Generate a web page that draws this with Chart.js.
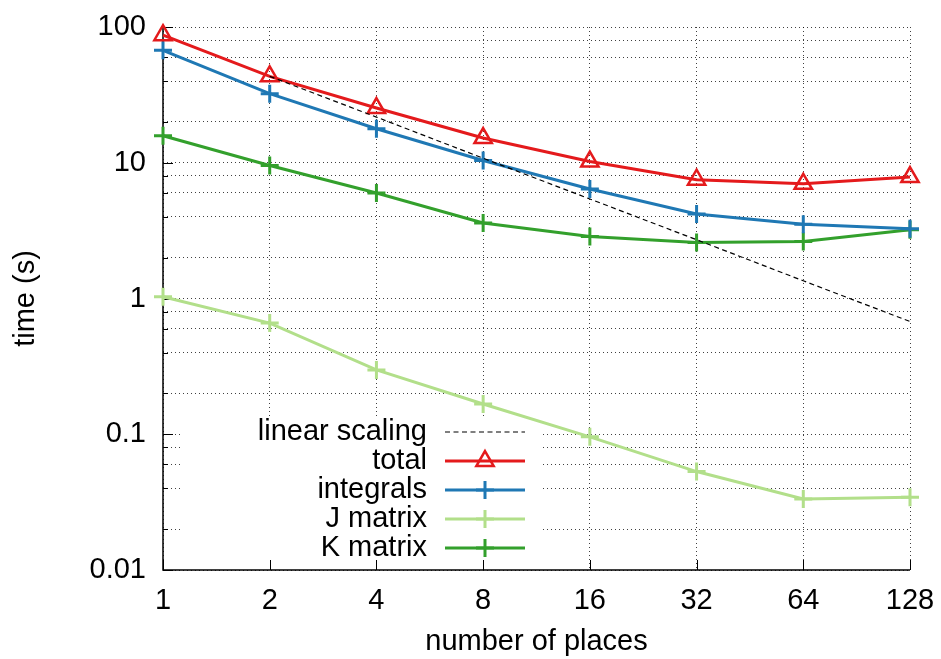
<!DOCTYPE html>
<html>
<head>
<meta charset="utf-8">
<script src="https://cdn.jsdelivr.net/npm/chart.js@4.4.0/dist/chart.umd.min.js"></script>
<style>
  html, body { margin: 0; padding: 0; background: #fff; }
</style>
</head>
<body>
<canvas id="myChart" width="941" height="659"></canvas>
<script>
// timings per number of places (seconds)
const places = ['1', '2', '4', '8', '16', '32', '64', '128'];
const linearScaling = [null, 43.3, 21.7, 10.8, 5.41, 2.71, 1.35, 0.677];
const total = [87, 43.3, 25.3, 15.2, 10.2, 7.5, 7.0, 7.85];
const integrals = [67.3, 32.3, 17.8, 10.4, 6.4, 4.2, 3.53, 3.27];
const jMatrix = [1.03, 0.659, 0.298, 0.167, 0.0957, 0.0531, 0.0334, 0.0344];
const kMatrix = [15.8, 9.55, 5.98, 3.6, 2.86, 2.59, 2.63, 3.21];

const yTicks = [0.01, 0.1, 1, 10, 100];
const yTickLabels = ['0.01', '0.1', '1', '10', '100'];
const yMinor = [2, 4, 6, 8];

const FONT = '"Liberation Sans", Arial, sans-serif';
Chart.defaults.font.family = FONT;
Chart.defaults.font.size = 29;
Chart.defaults.color = '#000';

// gnuplot style markers
function drawMarker(ctx, style, x, y, r) {
  ctx.beginPath();
  if (style === 'triangle') {
    for (let k = 0; k < 3; k++) {
      const a = k * 2 * Math.PI / 3;
      const px = x + Math.sin(a) * r, py = y - Math.cos(a) * r;
      if (k === 0) ctx.moveTo(px, py); else ctx.lineTo(px, py);
    }
    ctx.closePath();
  } else {
    ctx.moveTo(x - r, y); ctx.lineTo(x + r, y);
    ctx.moveTo(x, y - r); ctx.lineTo(x, y + r);
  }
  ctx.stroke();
}

const keyPlugin = {
  id: 'key',
  beforeDatasetsDraw(chart) {
    const {ctx, chartArea: a, scales} = chart;
    ctx.save();
    // opaque key background
    ctx.fillStyle = '#fff';
    ctx.fillRect(182, 417, 360, a.bottom - 417);
    // left and bottom border
    ctx.strokeStyle = '#000';
    ctx.lineWidth = 1.5;
    ctx.beginPath();
    ctx.moveTo(a.left, a.top);
    ctx.lineTo(a.left, a.bottom);
    ctx.lineTo(a.right, a.bottom);
    ctx.stroke();
    // inward tick marks
    ctx.lineWidth = 1;
    scales.y.ticks.forEach(t => {
      const y = Math.round(scales.y.getPixelForValue(t.value)) + 0.5;
      const len = yTicks.includes(t.value) ? 10 : 5;
      ctx.beginPath(); ctx.moveTo(a.left, y); ctx.lineTo(a.left + len, y); ctx.stroke();
    });
    places.forEach((p, i) => {
      const x = Math.round(scales.x.getPixelForValue(i)) + 0.5;
      ctx.beginPath(); ctx.moveTo(x, a.bottom); ctx.lineTo(x, a.bottom - 10); ctx.stroke();
    });
    ctx.restore();
  },
  afterDatasetsDraw(chart) {
    const ctx = chart.ctx;
    ctx.save();
    ctx.font = '29px ' + FONT;
    ctx.textAlign = 'right';
    ctx.textBaseline = 'middle';
    chart.data.datasets.forEach((ds, i) => {
      const y = 432 + i * 29;
      ctx.fillStyle = '#000';
      ctx.fillText(ds.label, 427, y);
      ctx.strokeStyle = ds.borderColor;
      ctx.lineWidth = ds.borderWidth;
      ctx.setLineDash(ds.borderDash || []);
      ctx.beginPath(); ctx.moveTo(445, y); ctx.lineTo(525, y); ctx.stroke();
      ctx.setLineDash([]);
      if (ds.pointRadius > 0) {
        ctx.lineWidth = ds.pointBorderWidth;
        drawMarker(ctx, ds.pointStyle, 485, y, ds.pointRadius);
      }
    });
    ctx.restore();
  }
};

function series(label, data, color, style, extra) {
  return Object.assign({
    label: label,
    data: data,
    borderColor: color,
    backgroundColor: color,
    pointBackgroundColor: 'rgba(0,0,0,0)',
    pointBorderColor: color,
    borderWidth: 3,
    pointBorderWidth: 3,
    pointStyle: style,
    pointRadius: 9,
    tension: 0,
    clip: false
  }, extra || {});
}

// keep tick labels from pushing the plot area in
function noOverflow(scale) {
  scale.paddingTop = 0;
  scale.paddingBottom = 0;
  scale.paddingLeft = 0;
  scale.paddingRight = 0;
}

const ctx = document.getElementById('myChart');

new Chart(ctx, {
  type: 'line',
  data: {
    labels: places,
    datasets: [
      series('linear scaling', linearScaling, '#000', 'cross',
        { borderWidth: 1.2, borderDash: [5, 3.5], pointRadius: 0 }),
      series('total', total, '#e41a1c', 'triangle', { pointRadius: 10, pointBorderWidth: 2.5 }),
      series('integrals', integrals, '#1f78b4', 'cross'),
      series('J matrix', jMatrix, '#b2df8a', 'cross'),
      series('K matrix', kMatrix, '#33a02c', 'cross')
    ]
  },
  options: {
    responsive: false,
    animation: false,
    layout: { padding: { top: 27, right: 31, left: 0, bottom: 0 } },
    plugins: {
      legend: { display: false },
      tooltip: { enabled: false }
    },
    scales: {
      x: {
        type: 'category',
        offset: false,
        border: { display: false, dash: [1, 3] },
        grid: { color: 'rgba(0,0,0,0.75)', lineWidth: 1, drawTicks: false },
        ticks: { padding: 14, autoSkip: false, maxRotation: 0 },
        title: { display: true, text: 'number of places', padding: { top: 0, bottom: 0 } },
        afterFit(scale) { scale.height = 89; noOverflow(scale); }
      },
      y: {
        type: 'logarithmic',
        min: 0.01,
        max: 100,
        border: { display: false, dash: [1, 3] },
        grid: { color: 'rgba(0,0,0,0.75)', lineWidth: 1, drawTicks: false },
        ticks: {
          padding: 17,
          autoSkip: false,
          callback: v => {
            const k = yTicks.indexOf(v);
            return k >= 0 ? yTickLabels[k] : '';
          }
        },
        afterBuildTicks(scale) {
          const list = [];
          yTicks.forEach((d, i) => {
            list.push({ value: d });
            if (i < yTicks.length - 1) yMinor.forEach(m => list.push({ value: d * m }));
          });
          scale.ticks = list;
        },
        title: { display: true, text: 'time (s)', padding: { top: 9, bottom: 0 } },
        afterFit(scale) { scale.width = 163; noOverflow(scale); }
      }
    }
  },
  plugins: [keyPlugin]
});
</script>
</body>
</html>
